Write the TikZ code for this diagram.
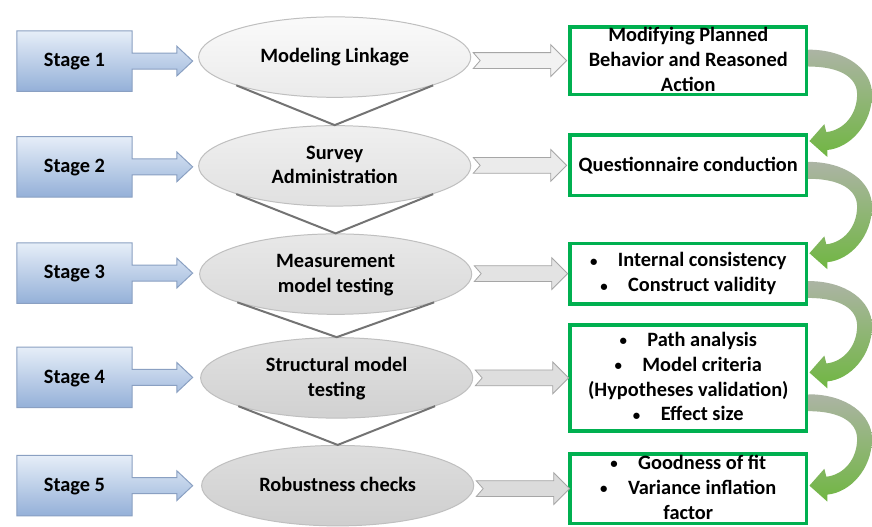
\documentclass[tikz,border=0pt]{standalone}
\usepackage{fontspec}
\setmainfont{Carlito}
\usetikzlibrary{shapes.geometric}

\definecolor{stageTop}{RGB}{230,238,248}
\definecolor{stageBot}{RGB}{148,176,216}
\definecolor{stageLine}{RGB}{138,160,194}
\definecolor{boxGreen}{RGB}{0,176,80}
\definecolor{bendGray}{RGB}{172,180,164}
\definecolor{bendGreen}{RGB}{112,182,66}

\newcommand{\dotmark}{\raisebox{0.6pt}{\fontsize{15}{15}\selectfont\textbullet}\quad}

\tikzset{
  txt/.style={font=\fontsize{20.5}{25}\selectfont\bfseries, align=center,
    text height=#1, text depth=0pt},
  txt/.default=11.5pt,
  stagetext/.style={txt, minimum width=116pt, minimum height=61pt, inner sep=0pt},
  phase/.style={ellipse, draw=black!25, line width=1pt, minimum width=274pt,
    minimum height=81pt, inner sep=0pt, txt=#1},
  phase/.default=11.5pt,
  result/.style={rectangle, draw=boxGreen, line width=3.5pt, fill=white,
    minimum width=238pt, inner xsep=0pt, inner ysep=1pt, txt=#1},
  result/.default=11.5pt,
  vline/.style={draw=black!55, line width=2pt},
  stagepic/.pic={
    \path[top color=stageTop, bottom color=stageBot, draw=stageLine, line width=1pt]
      (-58,-30.5) -- (58,-30.5) -- (58,-8) -- (103,-8) -- (103,-15) -- (119,0)
      -- (103,15) -- (103,8) -- (58,8) -- (58,30.5) -- (-58,30.5) -- cycle;
  },
  flowarrow/.pic={
    \path[draw=black!35, line width=0.8pt, pic actions]
      (0,-8) -- (78,-8) -- (78,-16) -- (94,0) -- (78,16) -- (78,8) -- (0,8)
      -- (7,0) -- cycle;
  },
  bendarrow/.pic={
    \path[top color=bendGray, bottom color=bendGreen]
      (0,0) .. controls (38,0) and (64,20) .. (64,45)
      .. controls (64,75) and (42,99) .. (19,101) -- (19,108) -- (1,92)
      -- (16,75) -- (18,83) .. controls (36,81) and (49,65) .. (49,45)
      .. controls (49,28) and (32,17) .. (0,17) -- cycle;
  }
}

\begin{document}
\begin{tikzpicture}[x=1pt,y=-1pt]
  \path[fill=white] (0,0) rectangle (872,529);

  % Stufen
  \pic at (75,61.5) {stagepic};
  \pic at (75,168) {stagepic};
  \pic at (75,275) {stagepic};
  \pic at (75,380) {stagepic};
  \pic at (75,489) {stagepic};
  \node[stagetext] (s1) at (75,61.5) {Stage 1};
  \node[stagetext] (s2) at (75,168) {Stage 2};
  \node[stagetext] (s3) at (75,275) {Stage 3};
  \node[stagetext] (s4) at (75,380) {Stage 4};
  \node[stagetext] (s5) at (75,489) {Stage 5};

  % Ellipsen
  \node[phase, top color=black!2, bottom color=black!8] (e1) at (337,57.5) {Modeling Linkage};
  \node[phase=36.5pt, top color=black!6, bottom color=black!12] (e2) at (337,167) {Survey\\Administration};
  \node[phase=36.5pt, top color=black!9, bottom color=black!15] (e3) at (338,276) {Measurement\\model testing};
  \node[phase=36.5pt, top color=black!12, bottom color=black!18] (e4) at (339,380.5) {Structural model\\testing};
  \node[phase, top color=black!13, bottom color=black!19] (e5) at (340,489) {Robustness checks};

  % Verbindungen
  \draw[vline] (e1.196) -- (e2.north) -- (e1.-16);
  \draw[vline] (e2.196) -- (e3.north) -- (e2.-16);
  \draw[vline] (e3.196) -- (e4.north) -- (e3.-16);
  \draw[vline] (e4.196) -- (e5.north) -- (e4.-16);

  % Boegen
  \path (814,50) pic {bendarrow};
  \path (814,163) pic {bendarrow};
  \path (814,283) pic {bendarrow};
  \path (814,397) pic {bendarrow};

  % Ergebnisse
  \node[result=61.5pt, minimum height=68pt] (g1) at (693,61) {Modifying Planned\\Behavior and Reasoned\\Action};
  \node[result, minimum height=61pt] (g2) at (693,166.5) {Questionnaire conduction};
  \node[result=36.5pt, minimum height=61pt] (g3) at (693,275.5)
    {\dotmark Internal consistency\\\dotmark Construct validity};
  \node[result=86.5pt, minimum height=107pt] (g4) at (693,380.5)
    {\dotmark Path analysis\\\dotmark Model criteria\\(Hypotheses validation)\\\dotmark Effect size};
  \node[result=61.5pt, minimum height=70pt] (g5) at (693,492)
    {\dotmark Goodness of fit\\\dotmark Variance inflation\\factor};

  % Pfeile
  \path (e1.east |- g1.west) ++(2,0) pic[fill=black!5] {flowarrow};
  \path (e2.east |- g2.west) ++(2,0) pic[fill=black!8] {flowarrow};
  \path (e3.east |- g3.west) ++(2,0) pic[fill=black!11] {flowarrow};
  \path (e4.east |- g4.west) ++(2,0) pic[fill=black!13] {flowarrow};
  \path (e5.east |- g5.west) ++(2,0) pic[fill=black!14] {flowarrow};
\end{tikzpicture}
\end{document}
